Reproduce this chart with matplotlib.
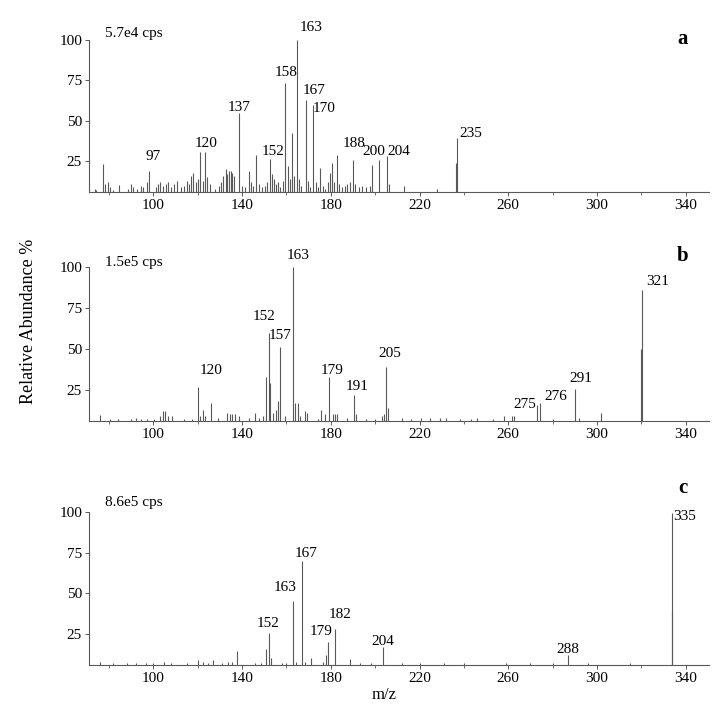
import matplotlib.pyplot as plt
from matplotlib.ticker import MultipleLocator

plt.rcParams['font.family'] = ['Liberation Serif', 'DejaVu Serif']

# spectrum a (5.7e4 cps)
mz_a = [73.5, 74.2, 77.1, 78.0, 79.5, 80.3, 82.0, 84.4, 88.5, 90.1, 91.0, 92.6, 94.5, 95.4,
        97.2, 98.2, 101.0, 102.0, 103.0, 104.2, 105.5, 106.8, 108.0, 109.2, 110.5, 112.3,
        113.6, 115.0, 116.1, 117.0, 118.0, 119.4, 120.3, 121.2, 122.3, 123.5, 124.4, 125.5,
        128.0, 129.5, 130.6, 131.6, 132.6, 133.4, 134.2, 134.9, 135.6, 136.4, 138.5, 139.8,
        141.5, 143.0, 143.8, 144.8, 146.4, 147.5, 149.0, 150.2, 151.4, 152.6, 153.5, 154.3,
        155.2, 156.3, 157.3, 158.4, 159.4, 160.5, 161.5, 162.6, 163.5, 164.7, 165.6, 166.5,
        168.6, 169.6, 170.5, 172.0, 173.1, 174.2, 175.3, 176.4, 177.5, 178.6, 179.6, 180.5,
        181.5, 182.7, 183.7, 185.0, 186.2, 187.3, 188.5, 189.8, 191.0, 192.5, 194.0, 195.8,
        197.5, 198.6, 201.7, 205.5, 206.3, 213.0, 227.7, 236.5, 236.8]
int_a = [8, 7, 23.5, 11, 12.5, 9, 7, 10.5, 8, 11, 9, 8, 10, 9,
         12, 19, 9, 11, 12, 10, 11, 12, 9, 11, 13, 9,
         10, 13, 11, 16, 18, 12, 14, 31, 13, 31, 15, 11,
         8, 10, 12, 16, 20, 17, 19, 19, 18, 16, 55, 10,
         9, 19, 12, 10, 29, 11, 9, 10, 12, 26.6, 17, 14,
         11, 12, 9, 13, 73.5, 22, 14, 42.7, 16, 100, 14, 10,
         63, 13, 9, 60, 12, 9, 21, 10, 8, 12, 18, 24,
         12, 29, 11, 9, 10, 11, 12, 26, 11, 9, 10, 9,
         10, 22.5, 25.6, 28, 11, 10, 8, 24, 39.6]

# spectrum b (1.5e5 cps)
mz_b = [76.0, 80.5, 84.0, 90.0, 92.0, 94.5, 97.0, 100.5, 103.0, 104.2, 105.4, 106.5,
        108.5, 114.0, 117.5, 120.1, 121.0, 122.2, 123.5, 126.0, 129.0, 133.2, 134.5,
        135.6, 136.8, 138.5, 143.0, 146.0, 147.5, 149.3, 150.8, 152.1, 152.8, 153.8,
        155.5, 156.2, 156.9, 159.5, 162.9, 164.0, 165.0, 166.0, 168.5, 169.4, 174.0,
        175.7, 177.2, 179.0, 181.0, 182.0, 183.0, 187.5, 190.5, 191.3, 196.0, 200.0,
        203.0, 204.0, 204.8, 205.7, 212.0, 216.0, 220.5, 224.5, 229.0, 232.0, 238.0,
        243.0, 246.0, 253.0, 258.0, 261.5, 262.5, 273.1, 274.3, 280.0, 290.1, 292.0,
        302.0, 319.8, 320.1]
int_b = [9.8, 7, 7, 7.5, 8, 7.5, 7, 7, 9, 12, 12, 9,
         9, 7, 7, 27, 9, 13, 9, 17, 8, 11, 10,
         10, 10, 9, 8, 11, 8, 9, 33, 60, 29, 11,
         13, 18, 51.4, 9, 100, 17, 17, 9, 12, 11, 7,
         13, 10, 33, 10, 10, 10, 8, 22, 10, 7, 7.5,
         9, 10, 39, 14, 8, 7.5, 8, 8, 8, 8, 7.5,
         7.5, 8, 7.5, 9, 9, 9, 15.5, 17, 7, 25.4, 8,
         11, 50, 86]

# spectrum c (8.6e5 cps)
mz_c = [76.1, 82.0, 88.0, 92.0, 96.5, 100.0, 104.6, 108.0, 115.0, 120.0, 122.5, 124.5,
        126.7, 131.0, 133.5, 135.5, 137.7, 146.0, 148.5, 150.8, 151.9, 153.0, 158.0,
        160.0, 162.9, 164.5, 167.0, 168.5, 171.0, 176.5, 177.6, 178.7, 181.7, 188.7,
        193.0, 198.0, 203.7, 212.0, 220.0, 231.0, 240.0, 259.0, 270.0, 280.0, 287.0,
        296.0, 315.0, 333.6, 333.9]
int_c = [8, 7, 7, 7, 7.5, 7.5, 8, 7.5, 7, 9, 8, 7.5,
         9, 7, 8, 8, 14.8, 7.5, 7.5, 15.6, 25.4, 10, 7.5,
         7.5, 45.3, 8, 70, 8, 10.5, 8, 12, 20.3, 28, 9.5,
         7, 7, 17.2, 7, 7, 7.5, 7, 7.5, 7.5, 7, 12,
         7, 7, 40, 99.6]

# peak labels: text, x and y of label centre
lab_a = ['97', '120', '137', '152', '158', '163', '167', '170', '188', '200', '204', '235']
lab_a_x = [100.0, 124.0, 138.5, 154.0, 159.7, 171.1, 172.3, 177.0, 190.3, 199.5, 210.7, 242.9]
lab_a_y = [28, 36, 58, 30.8, 80, 107.5, 69, 57.5, 36, 31, 31, 42]

lab_b = ['120', '152', '157', '163', '179', '191', '205', '275', '276', '291', '321']
lab_b_x = [126.0, 149.7, 157.2, 165.2, 180.5, 191.7, 206.8, 267.4, 281.4, 292.6, 327.2]
lab_b_y = [37, 69.6, 58, 107, 37, 27, 47, 16, 21, 32, 91]

lab_c = ['152', '163', '167', '179', '182', '204', '288', '335']
lab_c_x = [151.5, 159.5, 168.9, 175.5, 184.2, 203.3, 287.0, 339.3]
lab_c_y = [31.6, 53.5, 74.6, 26.4, 37.3, 20.7, 15.6, 97]

panels = [
    ('a', '5.7e4 cps', mz_a, int_a, lab_a, lab_a_x, lab_a_y, 104, 100.6),
    ('b', '1.5e5 cps', mz_b, int_b, lab_b, lab_b_x, lab_b_y, 103, 107),
    ('c', '8.6e5 cps', mz_c, int_c, lab_c, lab_c_x, lab_c_y, 106, 114.6),
]
rects = [[0.1223, 0.7333, 0.8517, 0.2111],
         [0.1223, 0.4153, 0.8517, 0.2139],
         [0.1223, 0.0764, 0.8517, 0.2125]]

ymin = 6

fig = plt.figure(figsize=(7.28, 7.2), dpi=100)

for rect, (letter, cps, mz, inten, labs, lx, ly, cps_y, let_y) in zip(rects, panels):
    ax = fig.add_axes(rect)
    ax.vlines(mz, ymin, inten, color='0.35', linewidth=0.8)
    ax.set_xlim(71, 350.5)
    ax.set_ylim(ymin, 100)
    ax.spines['top'].set_visible(False)
    ax.spines['right'].set_visible(False)
    ax.spines['left'].set_color('0.35')
    ax.spines['bottom'].set_color('0.35')
    ax.set_xticks([100, 140, 180, 220, 260, 300, 340])
    ax.xaxis.set_minor_locator(MultipleLocator(20))
    ax.set_yticks([25, 50, 75, 100])
    ax.tick_params(axis='both', which='major', labelsize=11, length=3, width=0.7,
                   color='0.35', pad=2)
    ax.tick_params(axis='x', which='minor', length=2, width=0.6, color='0.35')
    for t, x, y in zip(labs, lx, ly):
        ax.text(x, y, t, ha='center', va='center', fontsize=11, clip_on=False)
    ax.text(78, cps_y, cps, ha='left', va='center', fontsize=11, clip_on=False)
    ax.text(338.5, let_y, letter, ha='center', va='center', fontsize=15,
            fontweight='bold', clip_on=False)

fig.text(0.039, 0.553, 'Relative Abundance %', rotation=90, ha='center', va='center',
         fontsize=13)
fig.text(0.527, 0.035, 'm/z', ha='center', va='center', fontsize=12)

fig.savefig('out.png', dpi=100)
